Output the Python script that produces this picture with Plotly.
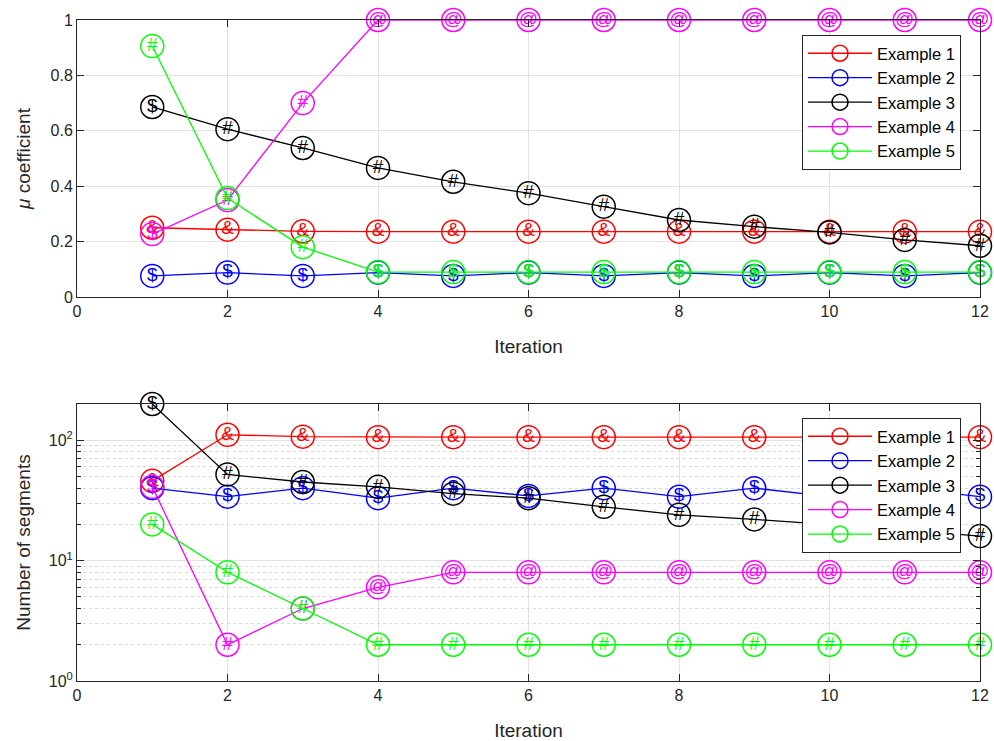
import math
import plotly.graph_objects as go

# Iteration index shared by both panels
iterations = list(range(1, 13))

series_names = ["Example 1", "Example 2", "Example 3", "Example 4", "Example 5"]
series_colors = ["#ff0000", "#0000ff", "#000000", "#ff00ff", "#00ff00"]

# mu coefficient per iteration
mu_ex1 = [0.250, 0.243, 0.237, 0.236, 0.236, 0.236, 0.236, 0.236, 0.236, 0.236, 0.236, 0.236]
mu_ex2 = [0.076, 0.088, 0.076, 0.088, 0.076, 0.088, 0.076, 0.088, 0.076, 0.088, 0.076, 0.088]
mu_ex3 = [0.686, 0.606, 0.538, 0.466, 0.416, 0.375, 0.326, 0.278, 0.254, 0.233, 0.206, 0.185]
mu_ex4 = [0.227, 0.350, 0.700, 1.0, 1.0, 1.0, 1.0, 1.0, 1.0, 1.0, 1.0, 1.0]
mu_ex5 = [0.906, 0.357, 0.180, 0.090, 0.090, 0.090, 0.090, 0.090, 0.090, 0.090, 0.090, 0.090]

# number of segments per iteration
seg_ex1 = [46, 111, 107, 106, 106, 106, 106, 106, 106, 106, 106, 106]
seg_ex2 = [40, 34, 40, 33, 40, 34.5, 40, 34, 40, 34, 40, 34]
seg_ex3 = [200, 52, 45, 41, 36, 33, 28, 24, 22, 20, 18, 16]
seg_ex4 = [41, 2, 4, 6, 8, 8, 8, 8, 8, 8, 8, 8]
seg_ex5 = [20, 8, 4, 2, 2, 2, 2, 2, 2, 2, 2, 2]

# state tags printed inside each marker
mu_tags_ex1 = ["&"] * 12
mu_tags_ex2 = ["$"] * 12
mu_tags_ex3 = ["$"] + ["#"] * 11
mu_tags_ex4 = ["$", "#", "#"] + ["@"] * 9
mu_tags_ex5 = ["#", "#", "#"] + ["$"] * 9

seg_tags_ex1 = ["&"] * 12
seg_tags_ex2 = ["$"] * 12
seg_tags_ex3 = ["$"] + ["#"] * 11
seg_tags_ex4 = ["$", "#", "#"] + ["@"] * 9
seg_tags_ex5 = ["#"] * 12

mu_series = [mu_ex1, mu_ex2, mu_ex3, mu_ex4, mu_ex5]
seg_series = [seg_ex1, seg_ex2, seg_ex3, seg_ex4, seg_ex5]
mu_tags = [mu_tags_ex1, mu_tags_ex2, mu_tags_ex3, mu_tags_ex4, mu_tags_ex5]
seg_tags = [seg_tags_ex1, seg_tags_ex2, seg_tags_ex3, seg_tags_ex4, seg_tags_ex5]

FONT = "Liberation Sans, Arial, Helvetica, sans-serif"
AX_COLOR = "#262626"

fig = go.Figure()


def add_series(values, tags, color, name, xa, ya, legend):
    fig.add_trace(go.Scatter(
        x=iterations, y=values, name=name, mode="lines+markers",
        line=dict(color=color, width=1.3),
        marker=dict(symbol="circle-open", size=23, color=color,
                    line=dict(color=color, width=1.5)),
        xaxis=xa, yaxis=ya, legend=legend, cliponaxis=False,
    ))
    fig.add_trace(go.Scatter(
        x=iterations, y=values, text=tags, mode="text",
        textposition="middle center",
        textfont=dict(family=FONT, size=19, color=color),
        xaxis=xa, yaxis=ya, showlegend=False, cliponaxis=False,
        hoverinfo="skip",
    ))


for vals, tags, col, nm in zip(mu_series, mu_tags, series_colors, series_names):
    add_series(vals, tags, col, nm, "x", "y", "legend")
for vals, tags, col, nm in zip(seg_series, seg_tags, series_colors, series_names):
    add_series(vals, tags, col, nm, "x2", "y2", "legend2")

W, H = 994, 741
x_dom = [77 / W, 980 / W]
top_dom = [(H - 297) / H, (H - 20) / H]
bot_dom = [(H - 681) / H, (H - 404) / H]

axis_common = dict(
    showline=True, linecolor=AX_COLOR, linewidth=1, mirror="allticks",
    ticks="inside", ticklen=7, tickcolor=AX_COLOR, tickwidth=1,
    showgrid=True, gridcolor="#e2e2e2", gridwidth=1, zeroline=False,
    automargin=False,
    tickfont=dict(family=FONT, size=16, color=AX_COLOR),
)

minor_vals = [m * 10 ** d for d in range(0, 3) for m in range(2, 10) if m * 10 ** d <= 200]

legend_common = dict(
    xanchor="left", yanchor="top",
    bgcolor="white", bordercolor=AX_COLOR, borderwidth=1,
    font=dict(family=FONT, size=16.5, color="#000000"),
    itemwidth=64, tracegroupgap=0,
)

fig.update_layout(
    width=W, height=H,
    margin=dict(l=0, r=0, t=0, b=0, autoexpand=False),
    paper_bgcolor="white", plot_bgcolor="white",
    font=dict(family=FONT, color=AX_COLOR),
    xaxis=dict(domain=x_dom, anchor="y", range=[0, 12], tick0=0, dtick=2,
               title=dict(text="Iteration", font=dict(size=19, color=AX_COLOR), standoff=20),
               **axis_common),
    yaxis=dict(domain=top_dom, anchor="x", range=[0, 1], tick0=0, dtick=0.2,
               title=dict(text="<i>μ</i> coefficient", font=dict(size=19, color=AX_COLOR), standoff=14),
               **axis_common),
    xaxis2=dict(domain=x_dom, anchor="y2", range=[0, 12], tick0=0, dtick=2,
                title=dict(text="Iteration", font=dict(size=19, color=AX_COLOR), standoff=20),
                **axis_common),
    yaxis2=dict(domain=bot_dom, anchor="x2", type="log", range=[0, math.log10(200)],
                tickvals=[1, 10, 100],
                ticktext=["10<sup>0</sup>", "10<sup>1</sup>", "10<sup>2</sup>"],
                minor=dict(tickvals=minor_vals, showgrid=True, griddash="dot",
                           gridcolor="#d9d9d9", gridwidth=1, ticks="inside",
                           ticklen=4, tickcolor=AX_COLOR),
                title=dict(text="Number of segments", font=dict(size=19, color=AX_COLOR), standoff=13),
                **axis_common),
    legend=dict(x=802 / W, y=(H - 35) / H, **legend_common),
    legend2=dict(x=802 / W, y=(H - 418) / H, **legend_common),
)

fig.write_html("out.html")
